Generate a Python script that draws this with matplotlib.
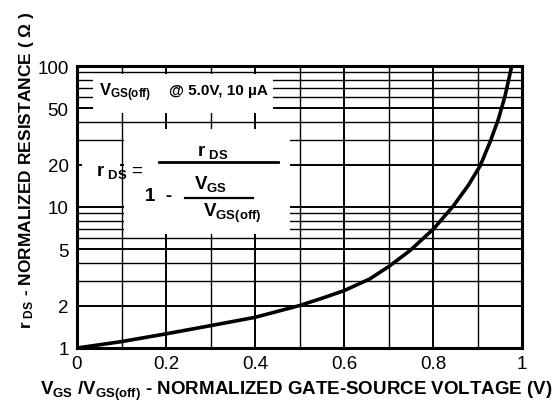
import matplotlib
matplotlib.use("Agg")
import matplotlib.pyplot as plt
from matplotlib.patches import Rectangle
from matplotlib.ticker import FixedLocator, NullFormatter

plt.rcParams["font.family"] = ["Liberation Sans", "DejaVu Sans"]
plt.rcParams["mathtext.fontset"] = "custom"
plt.rcParams["mathtext.rm"] = "Liberation Sans:bold"
plt.rcParams["mathtext.bf"] = "Liberation Sans:bold"
plt.rcParams["mathtext.default"] = "bf"

# ── data ───────────────────────────────────────────────────────────────────
vgs_ratio = [0, 0.1, 0.2, 0.3, 0.4, 0.5, 0.55, 0.6, 0.658, 0.703, 0.748,
             0.801, 0.846, 0.879, 0.906, 0.928, 0.947, 0.962, 0.977]
rds_norm = [1, 1.11, 1.26, 1.44, 1.65, 2.0, 2.25, 2.55, 3.09, 3.83, 4.9,
            6.98, 10.2, 14.2, 19.6, 28.8, 42, 61.5, 100]

x_ticks = [0, 0.2, 0.4, 0.6, 0.8, 1]
x_labels = ["0", "0.2", "0.4", "0.6", "0.8", "1"]
y_ticks = [1, 2, 5, 10, 20, 50, 100]
y_labels = ["1", "2", "5", "10", "20", "50", "100"]

W, H = 558, 406
fig = plt.figure(figsize=(W / 100, H / 100), dpi=100)
L, R, T, B = 77, 522, 67, 349
ax = fig.add_axes([L / W, 1 - B / H, (R - L) / W, (B - T) / H])


def px(x, y):
    """pixel position -> axes fraction"""
    return (x - L) / (R - L), (B - y) / (B - T)


ax.set_yscale("log")
ax.set_xlim(0, 1)
ax.set_ylim(1, 100)

ax.set_xticks(x_ticks)
ax.set_xticklabels(x_labels)
ax.xaxis.set_minor_locator(FixedLocator([i / 10 for i in range(11)]))
ax.set_yticks(y_ticks)
ax.set_yticklabels(y_labels)
ax.yaxis.set_minor_locator(FixedLocator([m * d for d in (1, 10) for m in range(1, 10)] + [100]))
ax.yaxis.set_minor_formatter(NullFormatter())
ax.tick_params(which="both", length=0, labelsize=13.5)
ax.tick_params(axis="x", pad=5)
ax.tick_params(axis="y", pad=6)

ax.set_axisbelow(True)
ax.grid(which="major", color="black", lw=1.4)
ax.grid(which="minor", color="black", lw=1.0)
for s in ax.spines.values():
    s.set_linewidth(2.2)

# ── white label boxes over the grid ────────────────────────────────────────
for (x0, y0, x1, y1) in [(93, 75, 273, 114), (124, 130, 290, 235), (82, 149, 120, 184)]:
    a0 = px(x0, y1)
    a1 = px(x1, y0)
    ax.add_patch(Rectangle(a0, a1[0] - a0[0], a1[1] - a0[1], transform=ax.transAxes,
                           facecolor="white", edgecolor="none", zorder=1))

ax.plot(vgs_ratio, rds_norm, color="black", lw=2.6, zorder=3,
        solid_capstyle="butt")

# ── annotations ────────────────────────────────────────────────────────────
ax.text(*px(99, 93), r"$V_{GS(off)}$", transform=ax.transAxes,
        ha="left", va="center", fontsize=12, zorder=4)
ax.text(*px(268, 91), "@ 5.0V, 10 µA", transform=ax.transAxes, fontweight="bold",
        ha="right", va="center", fontsize=11, zorder=4)

ax.text(*px(96, 172), r"$r_{\ DS}$ =", transform=ax.transAxes,
        ha="left", va="center", fontsize=13.5, zorder=4)
ax.text(*px(213, 152), r"$r_{\ DS}$", transform=ax.transAxes,
        ha="center", va="center", fontsize=13.5, zorder=4)
ax.plot(*zip(px(159, 162.5), px(278, 162.5)), transform=ax.transAxes,
        color="black", lw=2.0, zorder=4)
ax.text(*px(145, 197), "1  -", transform=ax.transAxes, fontweight="bold",
        ha="left", va="center", fontsize=13.5, zorder=4)
ax.text(*px(211, 184), r"$V_{GS}$", transform=ax.transAxes,
        ha="center", va="center", fontsize=13.5, zorder=4)
ax.plot(*zip(px(185, 199), px(253, 199)), transform=ax.transAxes,
        color="black", lw=1.6, zorder=4)
ax.text(*px(232, 213), r"$V_{GS(off)}$", transform=ax.transAxes,
        ha="center", va="center", fontsize=13.5, zorder=4)

fig.text(296 / W, 1 - 395 / H,
         r"$V_{GS}$ /$V_{GS(off)}$ - NORMALIZED GATE-SOURCE VOLTAGE (V)",
         ha="center", va="baseline", fontsize=13.5, fontweight="bold")
fig.text(27 / W, 1 - 170 / H,
         r"$r_{\ DS}$ - NORMALIZED RESISTANCE ( Ω )",
         ha="center", va="center", rotation=90, fontsize=12.5, fontweight="bold")

fig.savefig("out.png", dpi=100)
